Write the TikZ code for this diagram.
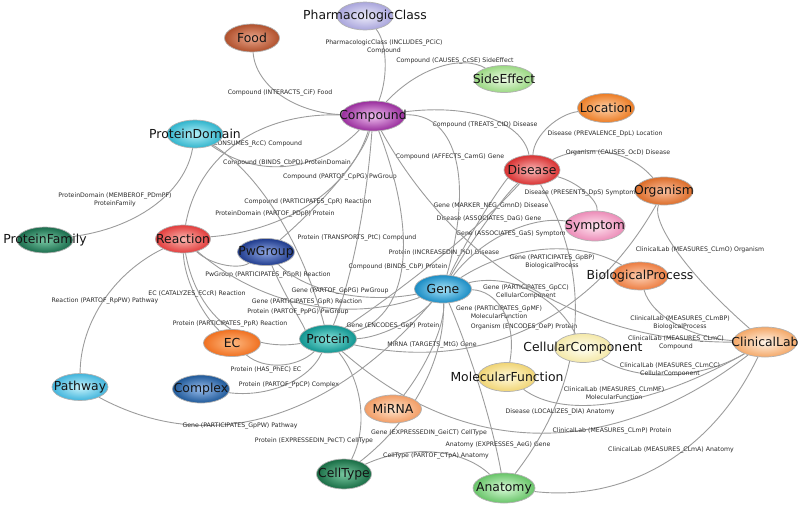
\documentclass[tikz,border=0pt]{standalone}
\usepackage{fontspec}
\setmainfont{DejaVu Sans}
\usetikzlibrary{calc,shapes.geometric}
\pgfdeclarelayer{bg}
\pgfsetlayers{bg,main}
\definecolor{edgegray}{HTML}{9C9C9C}
\definecolor{labgray}{HTML}{2A2A2A}
\tikzset{
  ent/.style={ellipse, draw=black!30, line width=0.7pt, minimum width=57pt, minimum height=28pt, inner sep=0pt, font=\fontsize{12.4}{14}\selectfont, text=black!92},
  edge/.style={draw=edgegray, line width=0.9pt},
  elab/.style={font=\fontsize{6.2}{7.8}\selectfont, text=labgray, align=center, inner sep=0pt},
}
\newcommand\ct[1]{\makebox[0pt]{#1}}
% from, to, curve midpoint, label position, label name, label text
\newcommand\rel[6]{%
  \draw[edge] (#1) .. controls ($(#3)!-0.3333!(#2.center)$) and ($(#3)!-0.3333!(#1.center)$) .. (#2);
  \node[elab] (#5) at (#4) {#6};
}
\begin{document}
\begin{tikzpicture}[x=1pt,y=-1pt]
\useasboundingbox (0,0) rectangle (800,504);
% entity nodes
\node[ent, minimum width=56pt, inner color={rgb,255:red,236;green,235;blue,250}, outer color={rgb,255:red,169;green,165;blue,220}] (pc) at (365,16) {\ct{PharmacologicClass}};
\node[ent, minimum width=55pt, inner color={rgb,255:red,234;green,165;blue,138}, outer color={rgb,255:red,176;green,80;blue,44}] (food) at (252,38) {\ct{Food}};
\node[ent, minimum width=60pt, minimum height=27pt, inner color={rgb,255:red,238;green,250;blue,230}, outer color={rgb,255:red,154;green,216;blue,130}] (se) at (504,79) {\ct{SideEffect}};
\node[ent, minimum width=64pt, minimum height=30pt, inner color={rgb,255:red,240;green,192;blue,240}, outer color={rgb,255:red,152;green,44;blue,156}] (comp) at (373,116) {\ct{Compound}};
\node[ent, minimum height=29pt, inner color={rgb,255:red,253;green,208;blue,168}, outer color={rgb,255:red,236;green,124;blue,36}] (loc) at (606,108) {\ct{Location}};
\node[ent, minimum width=56pt, inner color={rgb,255:red,180;green,240;blue,248}, outer color={rgb,255:red,48;green,180;blue,204}] (pd) at (195,134) {\ct{ProteinDomain}};
\node[ent, minimum width=56pt, minimum height=30pt, inner color={rgb,255:red,250;green,184;blue,184}, outer color={rgb,255:red,216;green,48;blue,48}] (dis) at (532,170) {\ct{Disease}};
\node[ent, minimum width=58pt, inner color={rgb,255:red,250;green,192;blue,160}, outer color={rgb,255:red,220;green,108;blue,40}] (org) at (664,191) {\ct{Organism}};
\node[ent, minimum width=60pt, minimum height=30pt, inner color={rgb,255:red,254;green,230;blue,240}, outer color={rgb,255:red,236;green,140;blue,184}] (sym) at (595,226) {\ct{Symptom}};
\node[ent, minimum width=56pt, minimum height=26pt, inner color={rgb,255:red,120;green,200;blue,164}, outer color={rgb,255:red,26;green,108;blue,76}] (pf) at (45,240) {\ct{ProteinFamily}};
\node[ent, minimum width=55pt, inner color={rgb,255:red,250;green,184;blue,176}, outer color={rgb,255:red,226;green,60;blue,60}] (rea) at (183,239) {\ct{Reaction}};
\node[ent, minimum height=27pt, inner color={rgb,255:red,144;green,168;blue,228}, outer color={rgb,255:red,30;green,58;blue,140}] (pwg) at (266,252) {\ct{PwGroup}};
\node[ent, minimum width=56pt, inner color={rgb,255:red,253;green,208;blue,180}, outer color={rgb,255:red,236;green,124;blue,64}] (bp) at (640,276) {\ct{BiologicalProcess}};
\node[ent, inner color={rgb,255:red,168;green,228;blue,250}, outer color={rgb,255:red,26;green,140;blue,196}] (gene) at (443,289) {\ct{Gene}};
\node[ent, inner color={rgb,255:red,136;green,228;blue,220}, outer color={rgb,255:red,16;green,148;blue,144}] (prot) at (328,339) {\ct{Protein}};
\node[ent, minimum height=27pt, inner color={rgb,255:red,253;green,184;blue,128}, outer color={rgb,255:red,240;green,112;blue,32}] (ec) at (232,343) {\ct{EC}};
\node[ent, minimum width=64pt, minimum height=30pt, inner color={rgb,255:red,255;green,244;blue,232}, outer color={rgb,255:red,244;green,168;blue,104}] (cl) at (765,342) {\ct{ClinicalLab}};
\node[ent, minimum height=29pt, inner color={rgb,255:red,255;green,255;blue,244}, outer color={rgb,255:red,244;green,232;blue,168}] (cc) at (583,348) {\ct{CellularComponent}};
\node[ent, minimum width=58pt, minimum height=29pt, inner color={rgb,255:red,255;green,250;blue,220}, outer color={rgb,255:red,240;green,212;blue,116}] (mf) at (507,377) {\ct{MolecularFunction}};
\node[ent, minimum width=56pt, minimum height=27pt, inner color={rgb,255:red,200;green,244;blue,252}, outer color={rgb,255:red,64;green,180;blue,220}] (pw) at (80,387) {\ct{Pathway}};
\node[ent, inner color={rgb,255:red,152;green,188;blue,236}, outer color={rgb,255:red,30;green,88;blue,152}] (cx) at (201,389) {\ct{Complex}};
\node[ent, inner color={rgb,255:red,254;green,228;blue,204}, outer color={rgb,255:red,242;green,156;blue,100}] (mir) at (393,409) {\ct{MiRNA}};
\node[ent, minimum width=55pt, minimum height=30pt, inner color={rgb,255:red,120;green,200;blue,160}, outer color={rgb,255:red,24;green,108;blue,68}] (ct) at (344,474) {\ct{CellType}};
\node[ent, minimum width=62pt, minimum height=30pt, inner color={rgb,255:red,216;green,250;blue,216}, outer color={rgb,255:red,104;green,196;blue,104}] (ana) at (504,488) {\ct{Anatomy}};
% relations
\begin{pgfonlayer}{bg}
\rel{pc}{comp}{383,60}{384,47}{l1}{PharmacologicClass (INCLUDES\_PCiC)\\Compound}
\rel{comp}{se}{440,70}{455,61}{l2}{Compound (CAUSES\_CcSE) SideEffect}
\rel{comp}{food}{285,94}{280,93}{l3}{Compound (INTERACTS\_CiF) Food}
\rel{rea}{comp}{242,144}{242,144}{l4}{Reaction (CONSUMES\_RcC) Compound}
\rel{comp}{pd}{287,163}{287,163}{l5}{Compound (BINDS\_CbPD) ProteinDomain}
\rel{comp}{dis}{485,120}{485,125}{l6}{Compound (TREATS\_CtD) Disease}
\rel{comp}{gene}{450,157}{450,157}{l7}{Compound (AFFECTS\_CamG) Gene}
\rel{comp}{pwg}{340,177}{340,177}{l8}{Compound (PARTOF\_CpPG) PwGroup}
\rel{comp}{rea}{308,202}{308,202}{l9}{Compound (PARTICIPATES\_CpR) Reaction}
\rel{pd}{prot}{275,214}{275,214}{l10}{ProteinDomain (PARTOF\_PDpP) Protein}
\rel{prot}{comp}{357,238}{357,238}{l11}{Protein (TRANSPORTS\_PtC) Compound}
\rel{prot}{dis}{444,253}{444,253}{l12}{Protein (INCREASEDIN\_PiD) Disease}
\rel{comp}{prot}{398,267}{398,267}{l13}{Compound (BINDS\_CbP) Protein}
\rel{pd}{pf}{150,205}{115,200}{l14}{ProteinDomain (MEMBEROF\_PDmPF)\\ProteinFamily}
\rel{rea}{pw}{106,301}{105,301}{l15}{Reaction (PARTOF\_RpPW) Pathway}
\rel{ec}{rea}{196,294}{197,294}{l16}{EC (CATALYZES\_ECcR) Reaction}
\rel{pwg}{rea}{225,262}{268,275}{l17}{PwGroup (PARTICIPATES\_PGpR) Reaction}
\rel{gene}{pwg}{340,291}{340,291}{l18}{Gene (PARTOF\_GpPG) PwGroup}
\rel{gene}{rea}{307,302}{307,302}{l19}{Gene (PARTICIPATES\_GpR) Reaction}
\rel{prot}{pwg}{298,312}{298,312}{l20}{Protein (PARTOF\_PpPG) PwGroup}
\rel{prot}{rea}{230,324}{230,324}{l21}{Protein (PARTICIPATES\_PpR) Reaction}
\rel{prot}{ec}{280,362}{266,370}{l22}{Protein (HAS\_PhEC) EC}
\rel{prot}{cx}{282,383}{289,385}{l23}{Protein (PARTOF\_PpCP) Complex}
\rel{gene}{pw}{266,414}{240,426}{l24}{Gene (PARTICIPATES\_GpPW) Pathway}
\rel{gene}{prot}{393,326}{393,326}{l25}{Gene (ENCODES\_GeP) Protein}
\rel{mir}{gene}{432,345}{432,345}{l26}{MiRNA (TARGETS\_MtG) Gene}
\rel{org}{prot}{524,327}{524,327}{l27}{Organism (ENCODES\_OeP) Protein}
\rel{gene}{ct}{420,388}{429,433}{l28}{Gene (EXPRESSEDIN\_GeiCT) CellType}
\rel{prot}{ct}{358,405}{314,441}{l29}{Protein (EXPRESSEDIN\_PeCT) CellType}
\rel{ct}{ana}{433,455}{436,456}{l30}{CellType (PARTOF\_CTpA) Anatomy}
\rel{ana}{gene}{480,390}{498,445}{l31}{Anatomy (EXPRESSES\_AeG) Gene}
\rel{dis}{ana}{572,330}{560,412}{l32}{Disease (LOCALIZES\_DlA) Anatomy}
\rel{dis}{loc}{552,128}{605,134}{l33}{Disease (PREVALENCE\_DpL) Location}
\rel{org}{dis}{605,155}{618,153}{l34}{Organism (CAUSES\_OcD) Disease}
\rel{dis}{sym}{582,193}{580,193}{l35}{Disease (PRESENTS\_DpS) Symptom}
\rel{gene}{dis}{491,206}{491,206}{l36}{Gene (MARKER\_NEG\_GmnD) Disease}
\rel{dis}{gene}{489,219}{489,219}{l37}{Disease (ASSOCIATES\_DaG) Gene}
\rel{gene}{sym}{511,234}{511,234}{l38}{Gene (ASSOCIATES\_GaS) Symptom}
\rel{gene}{bp}{545,252}{552,262}{l39}{Gene (PARTICIPATES\_GpBP)\\BiologicalProcess}
\rel{gene}{cc}{526,292}{526,292}{l40}{Gene (PARTICIPATES\_GpCC)\\CellularComponent}
\rel{gene}{mf}{499,312}{499,312}{l41}{Gene (PARTICIPATES\_GpMF)\\MolecularFunction}
\rel{cl}{org}{680,252}{700,250}{l42}{ClinicalLab (MEASURES\_CLmO) Organism}
\rel{cl}{bp}{680,323}{680,323}{l43}{ClinicalLab (MEASURES\_CLmBP)\\BiologicalProcess}
\rel{cl}{comp}{534,286}{676,343}{l44}{ClinicalLab (MEASURES\_CLmC)\\Compound}
\rel{cl}{cc}{670,372}{670,370}{l45}{ClinicalLab (MEASURES\_CLmCC)\\CellularComponent}
\rel{cl}{mf}{614,400}{614,393}{l46}{ClinicalLab (MEASURES\_CLmMF)\\MolecularFunction}
\rel{cl}{prot}{540,430}{612,431}{l47}{ClinicalLab (MEASURES\_CLmP) Protein}
\rel{cl}{ana}{660,462}{671,450}{l48}{ClinicalLab (MEASURES\_CLmA) Anatomy}
\end{pgfonlayer}
\end{tikzpicture}
\end{document}
